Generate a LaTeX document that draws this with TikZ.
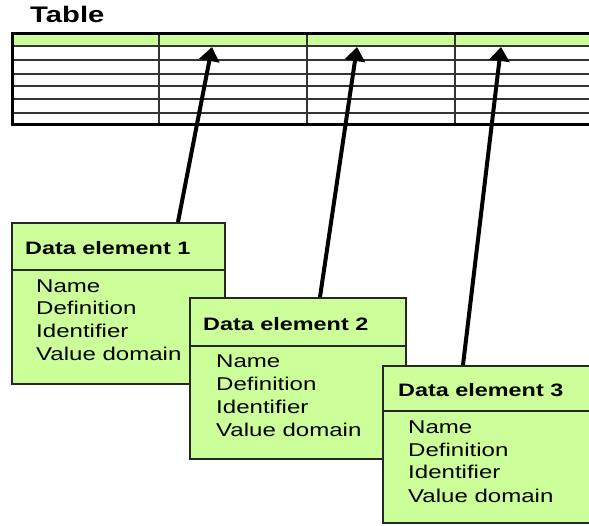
\documentclass[tikz,border=0pt]{standalone}
\usepackage{fontspec}
\setmainfont{Liberation Sans}[FakeStretch=1.3]
\usetikzlibrary{arrows.meta}
\definecolor{lgreen}{HTML}{CCFF99}
\tikzset{
  boxfill/.style={fill=lgreen,draw=black!85,line width=1.5pt},
  hdr/.style={anchor=base west,inner sep=0pt,font=\fontsize{18}{20}\selectfont\bfseries},
  body/.style={anchor=base west,inner sep=0pt,font=\fontsize{18.5}{20}\selectfont},
  gridline/.style={draw=black!80,line width=1.3pt},
  border/.style={draw=black,line width=3pt},
  link/.style={line width=4pt,-{Triangle[length=14pt,width=20pt]}}
}
\begin{document}
\begin{tikzpicture}[x=1pt,y=-1pt]
\clip (0,0) rectangle (589,525);
\fill[white] (0,0) rectangle (589,525);
% title
\node[anchor=base west,inner sep=0pt,font=\fontsize{22.5}{24}\selectfont\bfseries] (title) at (30,22) {Table};
% table
\fill[lgreen] (12,33) rectangle (600,46);
\foreach \y in {46,60,74,86,99,113} \draw[gridline] (12,\y) -- (600,\y);
\foreach \x in {159,307,455} \draw[gridline] (\x,33) -- (\x,124);
\draw[border] (600,33) -- (12,33) -- (12,124) -- (600,124);
\coordinate (t2) at (212,47);
\coordinate (t3) at (357,47);
\coordinate (t4) at (501,47);
% box 1
\node[boxfill,rectangle,anchor=north west,minimum width=213pt,minimum height=161pt,inner sep=0pt] (b1) at (11,222) {};
\draw[boxfill] (11,270) -- (224,270);
\node[hdr] (b1h) at (25,254) {Data element 1};
\node[body] (b1a) at (36,292) {Name};
\node[body] (b1b) at (36,314) {Definition};
\node[body] (b1c) at (36,337) {Identifier};
\node[body] (b1d) at (36,360) {Value domain};
% box 2
\node[boxfill,rectangle,anchor=north west,minimum width=216pt,minimum height=161pt,inner sep=0pt] (b2) at (189,297) {};
\draw[boxfill] (189,346) -- (405,346);
\node[hdr] (b2h) at (203,330) {Data element 2};
\node[body] (b2a) at (216,367) {Name};
\node[body] (b2b) at (216,390) {Definition};
\node[body] (b2c) at (216,413) {Identifier};
\node[body] (b2d) at (216,436) {Value domain};
% box 3
\node[boxfill,rectangle,anchor=north west,minimum width=230pt,minimum height=157pt,inner sep=0pt] (b3) at (382,365) {};
\draw[boxfill] (382,411) -- (612,411);
\node[hdr] (b3h) at (398,396) {Data element 3};
\node[body] (b3a) at (408,433) {Name};
\node[body] (b3b) at (408,456) {Definition};
\node[body] (b3c) at (408,478) {Identifier};
\node[body] (b3d) at (408,502) {Value domain};
% connectors
\draw[link] ([xshift=167pt]b1.north west) -- (t2);
\draw[link] ([xshift=131pt]b2.north west) -- (t3);
\draw[link] ([xshift=81pt]b3.north west) -- (t4);
\end{tikzpicture}
\end{document}
